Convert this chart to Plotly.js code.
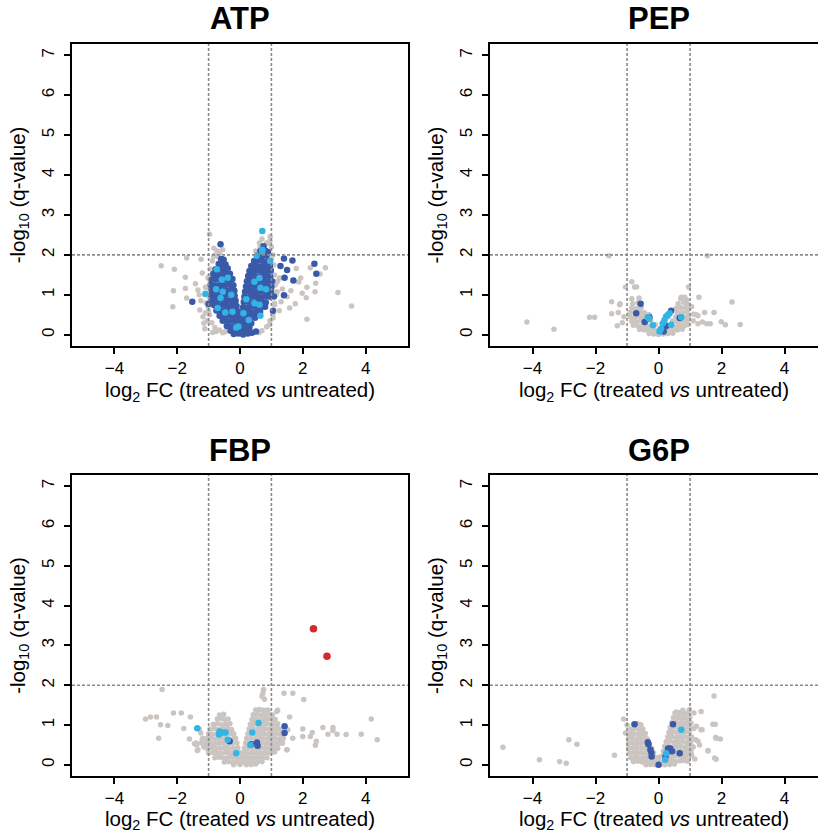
<!DOCTYPE html>
<html>
<head>
<meta charset="utf-8">
<script src="https://cdn.plot.ly/plotly-3.0.1.min.js"></script>
<style>html,body{margin:0;padding:0;background:#fff;}#chart{width:818px;height:833px;}</style>
</head>
<body>
<div id="chart"></div>
<script>
// ---------------- data ----------------
const panelNames = ['ATP', 'PEP', 'FBP', 'G6P'];
const xTickVals = [-4, -2, 0, 2, 4];
const yTickVals = [0, 1, 2, 3, 4, 5, 6, 7];
const fcCutoffs = [-1, 1];
const qCutoff = 2;
const xTitle = 'log<sub>2</sub> FC (treated <i>vs</i> untreated)';
const yTitle = '-log<sub>10</sub> (q-value)';

// ATP
const atpGrey = [
  [-2.51,1.73],[-2.09,1.64],[-1.74,1.44],[-1.7,1.92],[-1.24,1.89],[-2.12,1.1],[-2.14,0.7],[-1.7,0.92],[-1.74,1.16],[-1.34,1.12],
  [-1.15,0.29],[-0.87,0.06],[-0.76,0.08],[-0.46,0.08],[-0.57,0.44],[-0.97,2.52],[-0.83,2.17],[-0.55,2.13],[-0.84,1.96],[-1.02,1.42],
  [-1.1,1.19],[-1.02,0.71],[-0.97,0.5],[-1.42,1.28],[-1.28,0.62],[-1.25,0.85],[-1.18,0.45],[-1.3,1.0],[-1.2,1.55],[-1.12,0.15],
  [-1.05,0.35],[-1.1,0.55],[-1.08,0.8],[-1.12,1.0],[-1.05,1.2],[-1.0,1.45],[-0.95,1.65],[-0.88,1.85],[-0.8,2.0],[-0.72,2.1],
  [-0.65,2.05],[-0.98,0.95],[-0.9,0.3],[-0.8,0.18],[-0.65,0.12],[-0.55,0.05],[-1.0,0.6],[-0.95,1.3],[-0.85,1.55],[-0.7,1.95],
  [1.0,2.2],[0.95,2.35],[0.85,2.3],[1.05,2.0],[1.08,1.75],[1.1,1.5],[1.12,1.25],[1.15,1.0],[1.1,0.75],[1.05,0.5],
  [0.95,0.35],[0.85,0.2],[0.7,0.1],[0.6,0.05],[1.0,1.9],[1.05,1.1],[0.62,2.3],[0.7,2.4],[0.5,2.1],[1.2,1.35],
  [0.96,2.46],[0.92,2.29],[0.64,2.21],[1.18,1.08],[1.15,1.29],[1.26,1.42],[1.1,0.79],[0.94,0.25],[1.05,0.42],[1.31,0.83],
  [1.25,0.6],[1.35,1.15],
  [2.24,1.68],[2.72,1.68],[2.55,1.52],[1.93,1.42],[2.13,1.19],[2.41,1.29],[2.39,1.08],[1.98,1.04],[2.11,0.93],[3.12,1.06],
  [3.55,0.72],[2.13,0.39],[1.58,0.67],[1.76,0.78],[1.87,1.32],[1.79,1.66],[1.62,1.1],[1.5,0.95]
];
const atpDarkBlue = [
  [-0.62,2.27],[-1.52,0.83],[-1.0,0.77],[-0.58,1.89],[1.4,1.91],[1.67,1.86],[2.37,1.78],[2.43,1.53],[1.29,1.72],[1.5,1.62],
  [1.42,1.43],[1.7,1.36],[1.4,0.99],[1.08,0.96],[1.05,0.6],[0.89,2.07],[0.51,0.08],
  [-0.6,1.9],[-0.52,1.88],
  [-0.68,1.77],[-0.55,1.79],[-0.46,1.76],
  [-0.78,1.64],[-0.63,1.66],[-0.5,1.63],[-0.39,1.66],
  [-0.85,1.52],[-0.71,1.5],[-0.56,1.53],[-0.43,1.51],[-0.32,1.53],
  [-0.9,1.38],[-0.75,1.4],[-0.6,1.37],[-0.46,1.39],[-0.31,1.37],[-0.24,1.4],
  [-0.93,1.25],[-0.78,1.24],[-0.62,1.26],[-0.47,1.24],[-0.33,1.26],[-0.21,1.24],
  [-0.9,1.12],[-0.75,1.11],[-0.6,1.13],[-0.45,1.11],[-0.3,1.12],[-0.18,1.1],
  [-0.92,1.0],[-0.78,0.99],[-0.63,1.01],[-0.48,0.99],[-0.33,1.0],[-0.17,0.98],
  [-0.88,0.87],[-0.73,0.86],[-0.58,0.88],[-0.43,0.86],[-0.28,0.87],[-0.14,0.85],
  [-0.82,0.74],[-0.67,0.73],[-0.52,0.75],[-0.37,0.73],[-0.22,0.74],[-0.11,0.72],
  [-0.75,0.61],[-0.6,0.6],[-0.45,0.62],[-0.3,0.6],[-0.16,0.61],[-0.07,0.59],
  [-0.65,0.48],[-0.5,0.47],[-0.35,0.49],[-0.2,0.47],[-0.06,0.48],
  [-0.55,0.35],[-0.4,0.34],[-0.25,0.36],[-0.11,0.34],[0.0,0.35],
  [-0.42,0.22],[-0.28,0.21],[-0.14,0.23],[0.0,0.21],[0.1,0.22],
  [-0.3,0.1],[-0.16,0.09],[-0.02,0.11],[0.12,0.09],
  [-0.2,0.02],[-0.05,0.03],[0.1,0.01],[0.25,0.03],
  [0.75,2.22],
  [0.65,2.1],[0.8,2.11],
  [0.55,1.98],[0.7,1.97],[0.85,1.99],
  [0.45,1.85],[0.6,1.86],[0.75,1.84],[0.9,1.85],
  [0.36,1.72],[0.5,1.73],[0.65,1.71],[0.8,1.72],[0.95,1.73],
  [0.3,1.6],[0.44,1.59],[0.58,1.61],[0.72,1.6],[0.86,1.59],[0.98,1.61],
  [0.26,1.47],[0.4,1.48],[0.54,1.46],[0.68,1.47],[0.82,1.48],[0.96,1.46],
  [0.22,1.34],[0.36,1.35],[0.5,1.33],[0.64,1.34],[0.78,1.35],[0.92,1.33],[1.02,1.34],
  [0.19,1.21],[0.33,1.2],[0.47,1.22],[0.61,1.21],[0.75,1.2],[0.89,1.22],[1.0,1.21],
  [0.16,1.08],[0.3,1.09],[0.44,1.07],[0.58,1.08],[0.72,1.09],[0.86,1.07],[0.98,1.08],
  [0.14,0.95],[0.28,0.94],[0.42,0.96],[0.56,0.95],[0.7,0.94],[0.84,0.96],[0.96,0.95],
  [0.12,0.82],[0.26,0.83],[0.4,0.81],[0.54,0.82],[0.68,0.83],[0.82,0.81],
  [0.1,0.69],[0.24,0.68],[0.38,0.7],[0.52,0.69],[0.66,0.68],[0.8,0.7],
  [0.08,0.56],[0.22,0.57],[0.36,0.55],[0.5,0.56],[0.64,0.57],
  [0.06,0.43],[0.2,0.42],[0.34,0.44],[0.48,0.43],
  [0.08,0.3],[0.22,0.31],[0.36,0.29],
  [0.15,0.17],[0.3,0.18],
  [0.2,0.06],[0.38,0.05]
];
const atpLightBlue = [
  [0.71,2.6],[-1.1,1.03],[0.96,1.85],[0.71,2.13],[0.71,2.08],[0.53,1.98],[-0.74,1.64],[-0.58,1.38],[-0.39,1.43],[-0.76,1.14],
  [-0.55,1.08],[-0.62,0.92],[-0.28,1.0],[-0.71,0.67],[-0.47,0.56],[-0.24,0.58],[-0.12,0.18],[-0.05,0.21],[0.11,0.54],[0.28,0.37],
  [0.46,1.33],[0.62,1.42],[0.65,1.18],[0.46,0.79],[0.62,0.75],[0.65,0.48],[0.83,1.14],[0.2,0.89]
];

// PEP
const pepGrey = [
  [-4.18,0.32],[-3.32,0.14],[-2.19,0.44],[-2.03,0.44],[-1.58,1.98],[1.55,1.98],[-0.85,1.33],[-1.05,1.2],[-0.76,1.2],[-0.7,1.2],
  [-1.49,0.83],[-1.22,0.78],[-1.49,0.53],[-1.31,0.23],[-1.28,0.56],[1.28,0.94],[2.33,0.82],[1.76,0.56],[1.46,0.56],[1.11,0.52],
  [1.25,0.48],[1.39,0.32],[1.53,0.28],[1.64,0.28],[1.99,0.33],[2.12,0.25],[2.59,0.26],[0.72,0.94],[0.83,0.94],[0.95,1.2],
  [1.2,0.5],[1.25,0.28],[-1.24,0.75],[-1.1,0.45],[-1.15,0.3],[1.05,0.7],[1.1,0.35],
  [-0.3,0.03],[-0.15,0.02],[0.0,0.01],[0.15,0.02],[0.3,0.03],[0.45,0.04],
  [-0.6,0.13],[-0.45,0.12],[-0.3,0.11],[-0.15,0.12],[0.15,0.11],[0.3,0.12],[0.45,0.13],[0.6,0.12],[0.75,0.14],
  [-0.8,0.24],[-0.65,0.22],[-0.5,0.23],[-0.35,0.21],[-0.2,0.22],[0.35,0.22],[0.5,0.21],[0.65,0.23],[0.8,0.22],[0.92,0.25],
  [-0.85,0.34],[-0.7,0.33],[-0.55,0.35],[-0.4,0.33],[0.45,0.35],[0.6,0.33],[0.75,0.34],[0.9,0.35],
  [-0.9,0.45],[-0.75,0.44],[-0.6,0.46],[-0.45,0.44],[0.55,0.45],[0.7,0.46],[0.85,0.44],[0.95,0.46],
  [-0.9,0.56],[-0.75,0.55],[-0.6,0.57],[-0.45,0.55],[0.6,0.56],[0.75,0.55],[0.9,0.57],
  [-0.85,0.67],[-0.7,0.66],[-0.55,0.68],[0.55,0.66],[0.7,0.68],[0.85,0.67],[0.95,0.65],
  [-0.82,0.78],[-0.65,0.8],[0.62,0.78],[0.8,0.8],[0.92,0.77],
  [-0.85,0.9],[-0.62,0.92],[0.7,0.9],[0.88,0.88],
  [-0.25,0.35],[-0.1,0.25],[0.2,0.3],[0.3,0.45],[-0.3,0.5],[0.4,0.6],[0.1,0.28],[0.0,0.12]
];
const pepDarkBlue = [
  [-0.57,0.78],[-0.71,0.54],[-0.44,0.32],[0.4,0.6],[0.67,0.42],[0.16,0.08],[-0.29,0.44],[0.24,0.22]
];
const pepLightBlue = [
  [-0.34,0.44],[-0.3,0.4],[-0.18,0.24],[0.24,0.46],[0.35,0.54],[0.3,0.5],[0.14,0.29],[0.03,0.08],[0.72,0.44],[0.19,0.37],
  [0.4,0.25],[0.08,0.15]
];

// FBP
const fbpGrey = [
  [-2.48,1.89],[-3.01,1.15],[-2.85,1.2],[-2.66,1.2],[-2.12,1.3],[-1.87,1.3],[-1.58,1.2],[-2.53,1.01],[-2.3,0.99],[-2.59,0.67],
  [-1.79,0.91],[-1.61,0.65],[-1.36,0.36],[-1.45,0.53],[-1.38,0.5],[1.4,1.8],[1.68,1.8],[2.03,1.64],[1.2,1.37],[1.58,1.2],
  [1.68,0.67],[2.0,0.9],[2.0,0.71],[2.3,0.81],[2.24,0.71],[2.43,0.59],[2.4,0.49],[2.64,0.94],[2.96,0.94],[2.96,0.86],
  [2.8,0.77],[3.09,0.77],[3.38,0.76],[3.86,0.77],[4.18,1.15],[4.37,0.63],[1.5,0.38],[1.1,0.32],[0.75,1.89],[0.78,1.65],
  [0.7,1.72],[0.73,1.8],[-1.25,0.8],[-1.2,0.65],[-1.3,0.9],[-1.15,0.45],[-1.4,0.55],[-1.24,0.55],[-1.34,0.38],[-1.18,0.67],
  [1.1,0.46],[1.26,0.59],[1.52,0.88],[1.17,1.34],[1.2,0.42],[1.49,0.38],
  [-0.65,1.25],[-0.52,1.27],
  [-0.72,1.15],[-0.6,1.16],[-0.48,1.14],[-0.38,1.15],
  [-0.85,1.02],[-0.72,1.03],[-0.58,1.01],[-0.45,1.02],[-0.32,1.03],
  [-0.95,0.9],[-0.82,0.91],[-0.68,0.89],[-0.54,0.9],[-0.4,0.91],[-0.27,0.89],
  [-1.0,0.78],[-0.87,0.77],[-0.73,0.79],[-0.59,0.78],[-0.45,0.77],[-0.31,0.79],[-0.2,0.78],
  [-1.05,0.66],[-0.92,0.67],[-0.78,0.65],[-0.64,0.66],[-0.5,0.67],[-0.36,0.65],[-0.22,0.66],[-0.14,0.67],
  [-1.08,0.54],[-0.95,0.55],[-0.81,0.53],[-0.67,0.54],[-0.53,0.55],[-0.39,0.53],[-0.25,0.54],[-0.1,0.55],
  [-1.05,0.42],[-0.91,0.43],[-0.77,0.41],[-0.63,0.42],[-0.49,0.43],[-0.35,0.41],[-0.21,0.42],[-0.07,0.43],
  [-1.0,0.3],[-0.86,0.31],[-0.72,0.29],[-0.58,0.3],[-0.44,0.31],[-0.3,0.29],[-0.16,0.3],[-0.02,0.31],
  [-0.8,0.18],[-0.66,0.19],[-0.52,0.17],[-0.38,0.18],[-0.24,0.19],[-0.1,0.17],[0.04,0.18],
  [-0.5,0.07],[-0.36,0.08],[-0.22,0.06],[-0.08,0.07],[0.06,0.08],[0.2,0.06],
  [-0.2,0.0],[0.0,0.01],[0.2,0.0],[0.35,0.01],[0.5,0.02],
  [0.5,1.38],[0.62,1.39],[0.75,1.37],[0.88,1.38],
  [0.42,1.26],[0.55,1.27],[0.68,1.25],[0.81,1.26],[0.94,1.27],[1.03,1.25],
  [0.38,1.14],[0.51,1.15],[0.64,1.13],[0.77,1.14],[0.9,1.15],[1.03,1.13],[1.12,1.14],
  [0.33,1.02],[0.46,1.03],[0.59,1.01],[0.72,1.02],[0.85,1.03],[0.98,1.01],[1.1,1.02],[1.2,1.03],
  [0.29,0.9],[0.42,0.91],[0.55,0.89],[0.68,0.9],[0.81,0.91],[0.94,0.89],[1.07,0.9],[1.2,0.91],[1.3,0.89],
  [0.25,0.78],[0.38,0.79],[0.51,0.77],[0.64,0.78],[0.77,0.79],[0.9,0.77],[1.03,0.78],[1.16,0.79],[1.29,0.77],[1.38,0.78],
  [0.21,0.66],[0.34,0.67],[0.47,0.65],[0.6,0.66],[0.73,0.67],[0.86,0.65],[0.99,0.66],[1.12,0.67],[1.25,0.65],[1.38,0.66],
  [0.18,0.54],[0.31,0.55],[0.44,0.53],[0.57,0.54],[0.7,0.55],[0.83,0.53],[0.96,0.54],[1.09,0.55],[1.22,0.53],[1.35,0.54],
  [0.14,0.42],[0.27,0.43],[0.4,0.41],[0.53,0.42],[0.66,0.43],[0.79,0.41],[0.92,0.42],[1.05,0.43],[1.18,0.41],
  [0.1,0.3],[0.23,0.31],[0.36,0.29],[0.49,0.3],[0.62,0.31],[0.75,0.29],[0.88,0.3],[1.0,0.31],
  [0.08,0.18],[0.21,0.19],[0.34,0.17],[0.47,0.18],[0.6,0.19],[0.73,0.17],[0.86,0.18],
  [0.1,0.07],[0.25,0.08],[0.4,0.06],[0.55,0.07],[0.7,0.08]
];
const fbpDarkBlue = [
  [-0.33,0.59],[0.36,0.52],[0.54,0.56],[0.56,0.48],[1.42,0.97],[1.42,0.8]
];
const fbpLightBlue = [
  [-1.36,0.92],[-0.65,0.84],[-0.55,0.81],[-0.46,0.81],[-0.67,0.76],[-0.39,0.63],[-0.12,0.29],[0.39,0.81],[0.59,1.05],[0.33,0.5]
];
const fbpRed = [[2.34,3.42],[2.77,2.73]];

// G6P
const g6pGrey = [
  [-4.94,0.44],[-3.78,0.13],[-3.14,0.08],[-2.93,0.04],[-2.85,0.63],[-2.59,0.52],[-1.4,0.24],[-1.11,1.15],[1.76,1.73],[1.72,1.02],
  [1.8,1.02],[1.81,0.69],[1.96,0.65],[1.83,0.14],[1.57,0.36],[1.35,1.34],[1.38,0.88],[1.12,0.91],[1.25,0.59],[1.18,0.63],
  [0.98,1.39],[0.77,1.37],[0.56,1.33],[0.62,1.25],[1.12,1.3],[1.2,0.97],[1.35,0.88],[1.3,0.5],[1.57,0.35],[1.1,0.45],
  [1.05,0.25],[1.15,0.15],[1.78,0.17],[1.83,0.67],[-1.0,1.0],[-1.05,0.8],
  [-0.8,1.02],[-0.68,1.03],[-0.56,1.01],
  [-0.88,0.9],[-0.75,0.91],[-0.62,0.89],[-0.5,0.9],
  [-0.92,0.78],[-0.79,0.79],[-0.66,0.77],[-0.53,0.78],[-0.42,0.79],
  [-0.95,0.66],[-0.82,0.67],[-0.69,0.65],[-0.56,0.66],[-0.43,0.67],[-0.36,0.65],
  [-0.95,0.54],[-0.82,0.55],[-0.69,0.53],[-0.56,0.54],[-0.43,0.55],[-0.3,0.53],
  [-0.95,0.42],[-0.82,0.43],[-0.69,0.41],[-0.56,0.42],[-0.43,0.43],[-0.3,0.41],[-0.22,0.42],
  [-0.92,0.3],[-0.79,0.31],[-0.66,0.29],[-0.53,0.3],[-0.4,0.31],[-0.27,0.29],[-0.16,0.3],
  [-0.88,0.18],[-0.75,0.19],[-0.62,0.17],[-0.49,0.18],[-0.36,0.19],[-0.23,0.17],[-0.1,0.18],[0.02,0.19],
  [-0.8,0.08],[-0.66,0.09],[-0.52,0.07],[-0.38,0.08],[-0.24,0.09],[-0.1,0.07],[0.04,0.08],[0.18,0.09],
  [-0.4,0.0],[-0.25,0.01],[-0.1,0.0],[0.05,0.01],[0.2,0.0],[0.35,0.01],[0.5,0.02],
  [0.52,1.3],[0.65,1.31],[0.78,1.29],[0.92,1.3],
  [0.47,1.18],[0.6,1.19],[0.73,1.17],[0.86,1.18],[0.99,1.19],
  [0.42,1.06],[0.55,1.07],[0.68,1.05],[0.81,1.06],[0.94,1.07],[1.03,1.05],
  [0.37,0.94],[0.5,0.95],[0.63,0.93],[0.76,0.94],[0.89,0.95],[1.0,0.93],
  [0.33,0.82],[0.46,0.83],[0.59,0.81],[0.72,0.82],[0.85,0.83],[0.98,0.81],
  [0.29,0.7],[0.42,0.71],[0.55,0.69],[0.68,0.7],[0.81,0.71],[0.94,0.69],[1.05,0.7],
  [0.24,0.58],[0.37,0.59],[0.5,0.57],[0.63,0.58],[0.76,0.59],[0.89,0.57],[1.02,0.58],
  [0.19,0.46],[0.32,0.47],[0.45,0.45],[0.58,0.46],[0.71,0.47],[0.84,0.45],[0.97,0.46],[1.05,0.47],
  [0.15,0.34],[0.28,0.35],[0.41,0.33],[0.54,0.34],[0.67,0.35],[0.8,0.33],[0.93,0.34],[1.03,0.35],
  [0.12,0.22],[0.25,0.23],[0.38,0.21],[0.51,0.22],[0.64,0.23],[0.77,0.21],[0.9,0.22],[1.0,0.23],
  [0.3,0.1],[0.43,0.11],[0.56,0.09],[0.69,0.1],[0.82,0.11],[0.92,0.09]
];
const g6pDarkBlue = [
  [-0.76,1.02],[0.46,1.02],[-0.34,0.57],[-0.32,0.52],[-0.26,0.38],[-0.23,0.31],[-0.22,0.21],[0.3,0.41],[0.37,0.41],[0.43,0.34],
  [0.33,0.34],[0.67,0.29],[0.0,0.0],[0.22,0.21]
];
const g6pLightBlue = [[0.72,0.88],[0.24,0.29],[0.21,0.13]];

// ---------------- styling ----------------
const FONT = 'Liberation Sans, Arial, Helvetica, sans-serif';
const GREY = '#cbc5c1', DARK = '#3a5aa9', LIGHT = '#30b5e6', RED = '#d42a2c', DASH = '#8a8a8a';
const W = 818, H = 833;

function pts(pairs, ax, color, size) {
  return {
    type: 'scatter', mode: 'markers',
    x: pairs.map(p => p[0]), y: pairs.map(p => p[1]),
    xaxis: 'x' + ax, yaxis: 'y' + ax,
    marker: {color: color, size: size, line: {width: 0}},
    hoverinfo: 'skip', showlegend: false, cliponaxis: true
  };
}

const panelData = [
  {grey: atpGrey, dark: atpDarkBlue, light: atpLightBlue, red: []},
  {grey: pepGrey, dark: pepDarkBlue, light: pepLightBlue, red: []},
  {grey: fbpGrey, dark: fbpDarkBlue, light: fbpLightBlue, red: fbpRed},
  {grey: g6pGrey, dark: g6pDarkBlue, light: g6pLightBlue, red: []}
];
const suffix = ['', '2', '3', '4'];

const traces = [];
panelData.forEach((d, i) => {
  const s = suffix[i];
  traces.push(pts(d.grey, s, GREY, 5.5));
  traces.push(pts(d.dark, s, DARK, 6.5));
  traces.push(pts(d.light, s, LIGHT, 6.5));
  if (d.red.length) traces.push(pts(d.red, s, RED, 7.5));
});

// pixel geometry of the boxes
const boxes = [
  {l: 72, r: 408, t: 44, b: 346, xr: [-5.35, 5.35]},
  {l: 490, r: 818, t: 44, b: 346, xr: [-5.35, 5.06]},
  {l: 72, r: 408, t: 475, b: 776, xr: [-5.35, 5.35]},
  {l: 490, r: 818, t: 475, b: 776, xr: [-5.35, 5.06]}
];

const layout = {
  width: W, height: H,
  margin: {l: 0, r: 0, t: 0, b: 0},
  paper_bgcolor: '#ffffff', plot_bgcolor: '#ffffff',
  font: {family: FONT, color: '#000', size: 17},
  showlegend: false,
  shapes: [], annotations: []
};

boxes.forEach((b, i) => {
  const s = suffix[i];
  const full = b.r >= W;
  layout['xaxis' + s] = {
    domain: [b.l / W, b.r / W], range: b.xr, anchor: 'y' + s,
    showline: true, linecolor: '#000', linewidth: 2, mirror: true,
    ticks: 'outside', ticklen: 6, tickwidth: 2, tickcolor: '#000',
    tickvals: xTickVals, tickfont: {size: 17, family: FONT}, ticklabelstandoff: 0,
    showgrid: false, zeroline: false, fixedrange: true,
    title: {text: xTitle, font: {size: 20.5, family: FONT}, standoff: 0}
  };
  layout['yaxis' + s] = {
    domain: [1 - b.b / H, 1 - b.t / H], range: [-0.28, 7.28], anchor: 'x' + s,
    showline: true, linecolor: '#000', linewidth: 2, mirror: !full,
    ticks: 'outside', ticklen: 6, tickwidth: 2, tickcolor: '#000',
    tickvals: yTickVals, tickangle: -90, tickfont: {size: 17, family: FONT}, ticklabelstandoff: 3,
    showgrid: false, zeroline: false, fixedrange: true,
    title: {text: yTitle, font: {size: 20.5, family: FONT}, standoff: 8}
  };
  const dashLine = {color: DASH, width: 1.6, dash: '3px,2px'};
  fcCutoffs.forEach(v => {
    layout.shapes.push({type: 'line', xref: 'x' + s, yref: 'y' + s + ' domain',
      x0: v, x1: v, y0: 0, y1: 1, line: dashLine, layer: 'above'});
  });
  layout.shapes.push({type: 'line', xref: 'x' + s + ' domain', yref: 'y' + s,
    x0: 0, x1: 1, y0: qCutoff, y1: qCutoff, line: dashLine, layer: 'above'});
  layout.annotations.push({
    text: '<b>' + panelNames[i] + '</b>', xref: 'x' + s, x: 0,
    yref: 'paper', y: 1 - (b.t - 25) / H, xanchor: 'center', yanchor: 'middle',
    showarrow: false, font: {size: 31, family: FONT, color: '#000'}
  });
});

Plotly.newPlot('chart', traces, layout, {displayModeBar: false, staticPlot: true});
</script>
</body>
</html>
